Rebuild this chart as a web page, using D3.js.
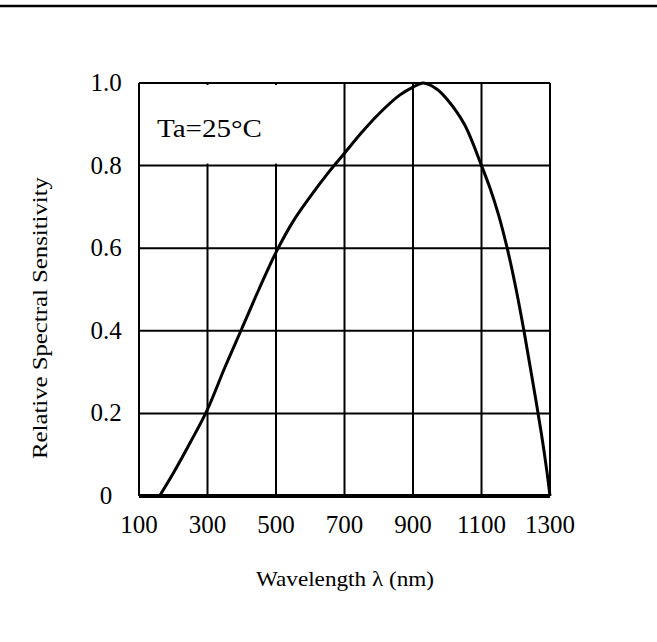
<!DOCTYPE html>
<html>
<head>
<meta charset="utf-8">
<script src="https://cdn.jsdelivr.net/npm/d3@7"></script>
<style>
  body { margin: 0; background: #fff; }
  text { font-family: "Liberation Serif", serif; fill: #000; }
</style>
</head>
<body>
<svg width="657" height="642"></svg>
<script>
var svg = d3.select('svg');

// Data
var wavelengths = [160, 200, 250, 300, 350, 400, 450, 500, 550, 600, 650, 700, 750, 800, 860, 900, 930, 970, 1000, 1050, 1100, 1125, 1150, 1175, 1200, 1225, 1250, 1275, 1290, 1300];
var sensitivity = [0, 0.055, 0.13, 0.21, 0.31, 0.405, 0.50, 0.59, 0.665, 0.725, 0.78, 0.83, 0.88, 0.925, 0.97, 0.99, 1.0, 0.985, 0.96, 0.9, 0.80, 0.745, 0.68, 0.60, 0.505, 0.395, 0.275, 0.15, 0.065, 0];

var xTicks = [100, 300, 500, 700, 900, 1100, 1300];
var yTicks = [0, 0.2, 0.4, 0.6, 0.8, 1.0];
var yTickLabels = ['0', '0.2', '0.4', '0.6', '0.8', '1.0'];

var noteText = 'Ta=25°C';
var xTitle = 'Wavelength λ (nm)';
var yTitle = 'Relative Spectral Sensitivity';

// Layout
var plot = {l: 139, t: 83, w: 411, h: 413};

var xScale = d3.scaleLinear().domain([100, 1300]).range([0, plot.w]);
var yScale = d3.scaleLinear().domain([0, 1]).range([plot.h, 0]);

// rule across the top of the page
svg.append('line')
    .attr('x1', 0).attr('x2', 657)
    .attr('y1', 6).attr('y2', 6)
    .attr('stroke', '#000')
    .attr('stroke-width', 2.6);

var chartG = svg.append('g')
    .attr('transform', 'translate(' + [plot.l, plot.t] + ')');

// grid lines
chartG.selectAll('.vgrid')
    .data(xTicks)
    .enter()
    .append('line')
    .attr('class', 'vgrid')
    .attr('x1', function(d) { return xScale(d); })
    .attr('x2', function(d) { return xScale(d); })
    .attr('y1', 0).attr('y2', plot.h)
    .attr('stroke', '#000')
    .attr('stroke-width', 2);

chartG.selectAll('.hgrid')
    .data(yTicks)
    .enter()
    .append('line')
    .attr('class', 'hgrid')
    .attr('x1', 0).attr('x2', plot.w)
    .attr('y1', function(d) { return yScale(d); })
    .attr('y2', function(d) { return yScale(d); })
    .attr('stroke', '#000')
    .attr('stroke-width', function(d) { return d === 0 ? 4 : 2; });

// white box behind the temperature note
chartG.append('rect')
    .attr('x', xScale(100) + 2)
    .attr('y', yScale(1) + 2)
    .attr('width', xScale(700) - xScale(100) - 4)
    .attr('height', yScale(0.8) - yScale(1) - 4)
    .attr('fill', '#fff');

chartG.append('text')
    .attr('x', 18)
    .attr('y', 54)
    .attr('font-size', 26)
    .attr('textLength', 105)
    .attr('lengthAdjust', 'spacingAndGlyphs')
    .text(noteText);

// the curve
var line = d3.line()
    .x(function(d, i) { return xScale(wavelengths[i]); })
    .y(function(d) { return yScale(d); })
    .curve(d3.curveCatmullRom.alpha(0.5));

chartG.append('path')
    .datum(sensitivity)
    .attr('d', line)
    .attr('fill', 'none')
    .attr('stroke', '#000')
    .attr('stroke-width', 3);

// tick labels
chartG.selectAll('.xlabel')
    .data(xTicks)
    .enter()
    .append('text')
    .attr('class', 'xlabel')
    .attr('x', function(d) { return xScale(d); })
    .attr('y', plot.h + 37)
    .attr('text-anchor', 'middle')
    .attr('font-size', 25)
    .text(function(d) { return d; });

chartG.selectAll('.ylabel')
    .data(yTicks)
    .enter()
    .append('text')
    .attr('class', 'ylabel')
    .attr('x', -33)
    .attr('y', function(d) { return yScale(d) + 8; })
    .attr('text-anchor', 'middle')
    .attr('font-size', 25)
    .text(function(d, i) { return yTickLabels[i]; });

// axis titles
svg.append('text')
    .attr('x', 345)
    .attr('y', 586)
    .attr('text-anchor', 'middle')
    .attr('font-size', 22)
    .attr('textLength', 178)
    .attr('lengthAdjust', 'spacingAndGlyphs')
    .text(xTitle);

svg.append('text')
    .attr('transform', 'translate(' + [47, 318] + ')rotate(270)')
    .attr('text-anchor', 'middle')
    .attr('font-size', 22)
    .attr('textLength', 282)
    .attr('lengthAdjust', 'spacingAndGlyphs')
    .text(yTitle);
</script>
</body>
</html>
